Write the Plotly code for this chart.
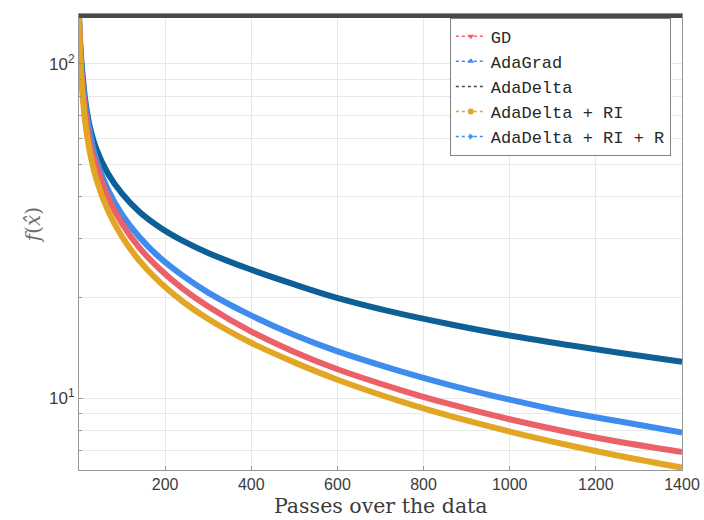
import numpy as np
import plotly.graph_objects as go

# ---- data ----
passes = [0, 2, 5, 10, 15, 25, 40, 67, 100, 140, 188, 240, 300, 397, 500, 597, 745, 861, 1000, 1140, 1250, 1400]

gd = [139, 115, 96, 80, 71, 58, 49.5, 40.0, 33.3, 28.2, 24.3, 21.3, 18.8, 15.9, 13.75, 12.25, 10.6, 9.6, 8.65, 7.9, 7.42, 6.9]
adagrad = [139, 121, 104, 88, 77, 65, 55.7, 47.0, 40.9, 36.1, 32.4, 29.6, 27.2, 24.3, 21.9, 20.0, 17.9, 16.65, 15.4, 14.4, 13.7, 12.85]
adadelta_x = [0, 1400]
adadelta = [139, 139]
adadelta_ri = [139, 112, 92, 76, 66, 54.7, 45.3, 36.5, 30.4, 25.8, 22.2, 19.5, 17.25, 14.7, 12.8, 11.4, 9.8, 8.85, 7.95, 7.22, 6.74, 6.2]
adadelta_ri_r = [139, 118, 100, 85, 75, 62.8, 51.7, 42.1, 35.4, 30.35, 26.3, 23.3, 20.7, 17.75, 15.45, 13.85, 12.05, 10.95, 9.9, 9.05, 8.55, 7.9]

legend_names = ["GD", "AdaGrad", "AdaDelta", "AdaDelta + RI", "AdaDelta + RI + R"]
x_ticks = [200, 400, 600, 800, 1000, 1200, 1400]
y_ticks = [10, 100]
y_ticktext = ["10<sup>1</sup>", "10<sup>2</sup>"]
y_minor = [7, 8, 9, 20, 30, 40, 50, 60, 70, 80, 90]
x_title = "Passes over the data"
y_title = "<i>f</i>(<i>x\u0302</i>)"

# ---- styles ----
c_gd = "rgb(234,98,104)"
c_adagrad = "rgb(12,96,150)"
c_adadelta = "rgb(72,72,72)"
c_ri = "rgb(226,166,36)"
c_rir = "rgb(62,140,238)"

fig = go.Figure()

# thick curves (no legend)
for yv, col in [(adagrad, c_adagrad), (adadelta_ri_r, c_rir), (gd, c_gd), (adadelta_ri, c_ri)]:
    fig.add_trace(go.Scatter(x=passes, y=yv, mode="lines",
                             line=dict(color=col, width=6, shape="spline", smoothing=1.0),
                             showlegend=False, hoverinfo="skip"))
fig.add_trace(go.Scatter(x=adadelta_x, y=adadelta, mode="lines", line=dict(color=c_adadelta, width=4),
                         showlegend=False, hoverinfo="skip"))

# legend entries
leg_styles = [
    (c_gd, "triangle-down", "lines+markers"),
    (c_rir, "triangle-up", "lines+markers"),
    (c_adadelta, "circle", "lines"),
    (c_ri, "circle", "lines+markers"),
    (c_rir, "triangle-right", "lines+markers"),
]
for name, (col, sym, mode) in zip(legend_names, leg_styles):
    fig.add_trace(go.Scatter(x=[None], y=[None], name=name, mode=mode,
                             line=dict(color=col, width=1.5, dash="dot"),
                             marker=dict(symbol=sym, size=6, color=col)))

axis_col = "rgb(150,150,150)"
grid_col = "rgb(232,232,232)"

fig.update_layout(
    width=704, height=520,
    margin=dict(l=79, r=22, t=14, b=50),
    plot_bgcolor="white", paper_bgcolor="white",
    legend=dict(x=0.615, y=0.992, xanchor="left", yanchor="top",
                bgcolor="white", bordercolor="rgb(130,130,130)", borderwidth=1,
                font=dict(family="Liberation Mono", size=17, color="rgb(40,40,40)"),
                itemwidth=30, tracegroupgap=0),
    xaxis=dict(range=[0, 1400], tickvals=x_ticks, showgrid=True, gridcolor=grid_col,
               showline=True, linecolor=axis_col, mirror=True, ticks="inside", ticklen=4,
               tickcolor=axis_col, zeroline=False, automargin=False,
               tickfont=dict(family="Liberation Sans", size=16, color="rgb(60,60,60)")),
    yaxis=dict(type="log", range=[np.log10(6.1), np.log10(141)], tickvals=y_ticks, ticktext=y_ticktext,
               showgrid=True, gridcolor=grid_col, showline=True, linecolor=axis_col, mirror=True,
               ticks="inside", ticklen=4, tickcolor=axis_col, automargin=False,
               minor=dict(tickvals=y_minor, showgrid=True, gridcolor=grid_col, ticks="inside", ticklen=3,
                          tickcolor=axis_col),
               tickfont=dict(family="Liberation Sans", size=17, color="rgb(60,60,60)")),
    annotations=[
        dict(text=x_title, xref="paper", yref="paper", x=0.5, y=0, xanchor="center", yanchor="middle",
             yshift=-36, showarrow=False,
             font=dict(family="DejaVu Serif", size=20.5, color="rgb(60,60,60)")),
        dict(text=y_title, xref="paper", yref="paper", x=0, y=0.537, xanchor="center", yanchor="middle",
             xshift=-46, textangle=-90, showarrow=False,
             font=dict(family="DejaVu Serif", size=20, color="rgb(110,110,110)")),
    ],
)

fig.write_html("out.html")
